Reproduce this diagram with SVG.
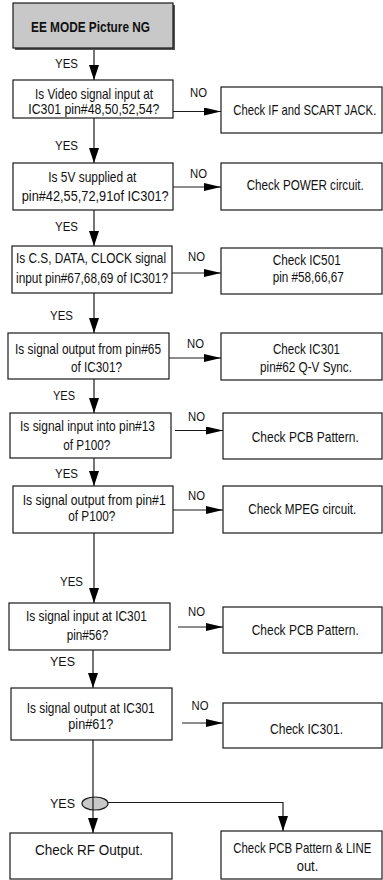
<svg xmlns="http://www.w3.org/2000/svg" width="383" height="880" viewBox="0 0 383 880">
<style>
.box{fill:#fff;stroke:#1a1a1a;stroke-width:1.2}
.t{font-family:"Liberation Sans",Arial,sans-serif;font-size:14px;fill:#111}
.b{font-family:"Liberation Sans",Arial,sans-serif;font-size:15px;font-weight:bold;fill:#111}
.l{font-family:"Liberation Sans",Arial,sans-serif;font-size:13px;fill:#111}
.c{fill:none;stroke:#1a1a1a;stroke-width:1.2}
</style>
<defs>
<marker id="av" markerUnits="userSpaceOnUse" markerWidth="16" markerHeight="11" refX="15" refY="5" orient="auto"><path d="M0,0 L15,5 L0,10 z" fill="#000"/></marker>
<marker id="ah" markerUnits="userSpaceOnUse" markerWidth="18" markerHeight="9" refX="17" refY="4" orient="auto"><path d="M0,0 L17,4 L0,8 z" fill="#000"/></marker>
</defs>
<g id="connectors">
<line class="c" x1="94" y1="48" x2="94" y2="80" marker-end="url(#av)"/>
<line class="c" x1="94" y1="118" x2="94" y2="163" marker-end="url(#av)"/>
<line class="c" x1="94" y1="210" x2="94" y2="246" marker-end="url(#av)"/>
<line class="c" x1="94" y1="293" x2="94" y2="333" marker-end="url(#av)"/>
<line class="c" x1="94" y1="379" x2="94" y2="413" marker-end="url(#av)"/>
<line class="c" x1="94" y1="458" x2="94" y2="486" marker-end="url(#av)"/>
<line class="c" x1="94" y1="533" x2="94" y2="603" marker-end="url(#av)"/>
<line class="c" x1="93" y1="650" x2="93" y2="688" marker-end="url(#av)"/>
<line class="c" x1="173" y1="111.5" x2="221" y2="111.5" marker-end="url(#ah)"/>
<line class="c" x1="173" y1="187" x2="221" y2="187" marker-end="url(#ah)"/>
<line class="c" x1="172" y1="273" x2="221" y2="273" marker-end="url(#ah)"/>
<line class="c" x1="169" y1="358" x2="221" y2="358" marker-end="url(#ah)"/>
<line class="c" x1="175" y1="430.5" x2="223" y2="430.5" marker-end="url(#ah)"/>
<line class="c" x1="173" y1="510" x2="223" y2="510" marker-end="url(#ah)"/>
<line class="c" x1="178" y1="627" x2="223" y2="627" marker-end="url(#ah)"/>
<line class="c" x1="182" y1="723" x2="223" y2="723" marker-end="url(#ah)"/>
<path class="c" d="M95,802.5 H283 V831" marker-end="url(#av)"/>
<ellipse cx="95" cy="803.5" rx="13" ry="6.5" fill="#c8c8c8" stroke="#1a1a1a" stroke-width="1.2"/>
<line class="c" x1="93" y1="740" x2="93" y2="833" stroke="#444" marker-end="url(#av)"/>
</g>
<g id="labels">
<text class="l" transform="translate(55,68) scale(0.88,1)" textLength="26.1" lengthAdjust="spacingAndGlyphs">YES</text>
<text class="l" transform="translate(55,150) scale(0.88,1)" textLength="26.1" lengthAdjust="spacingAndGlyphs">YES</text>
<text class="l" transform="translate(55,231) scale(0.88,1)" textLength="26.1" lengthAdjust="spacingAndGlyphs">YES</text>
<text class="l" transform="translate(50,320) scale(0.88,1)" textLength="26.1" lengthAdjust="spacingAndGlyphs">YES</text>
<text class="l" transform="translate(53,400) scale(0.88,1)" textLength="25" lengthAdjust="spacingAndGlyphs">YES</text>
<text class="l" transform="translate(55,478) scale(0.88,1)" textLength="26.1" lengthAdjust="spacingAndGlyphs">YES</text>
<text class="l" transform="translate(60,586) scale(0.88,1)" textLength="26.1" lengthAdjust="spacingAndGlyphs">YES</text>
<text class="l" transform="translate(50,666) scale(0.88,1)" textLength="28.4" lengthAdjust="spacingAndGlyphs">YES</text>
<text class="l" transform="translate(50,808) scale(0.88,1)" textLength="28.4" lengthAdjust="spacingAndGlyphs">YES</text>
<text class="l" transform="translate(190,97) scale(0.88,1)" textLength="19.3" lengthAdjust="spacingAndGlyphs">NO</text>
<text class="l" transform="translate(190,178) scale(0.88,1)" textLength="19.3" lengthAdjust="spacingAndGlyphs">NO</text>
<text class="l" transform="translate(188,261) scale(0.88,1)" textLength="19.3" lengthAdjust="spacingAndGlyphs">NO</text>
<text class="l" transform="translate(187,348) scale(0.88,1)" textLength="19.3" lengthAdjust="spacingAndGlyphs">NO</text>
<text class="l" transform="translate(188,421) scale(0.88,1)" textLength="19.3" lengthAdjust="spacingAndGlyphs">NO</text>
<text class="l" transform="translate(188,500) scale(0.88,1)" textLength="19.3" lengthAdjust="spacingAndGlyphs">NO</text>
<text class="l" transform="translate(188,616) scale(0.88,1)" textLength="19.3" lengthAdjust="spacingAndGlyphs">NO</text>
<text class="l" transform="translate(191.5,710) scale(0.88,1)" textLength="19.3" lengthAdjust="spacingAndGlyphs">NO</text>
</g>
<g id="start">
<rect x="15" y="5" width="160" height="45" fill="#555"/>
<rect x="13" y="3" width="160" height="45" fill="#c8c8c8" stroke="#1a1a1a" stroke-width="1.2"/>
<text class="b" transform="translate(31,32) scale(0.8,1)" textLength="148.8" lengthAdjust="spacingAndGlyphs">EE MODE Picture NG</text>
</g>
<g id="q1">
<rect class="box" x="13" y="80" width="160" height="38"/>
<text class="t" transform="translate(35,99) scale(0.84,1)" textLength="140.5" lengthAdjust="spacingAndGlyphs">Is Video signal input at</text>
<text class="t" transform="translate(28.3,114) scale(0.84,1)" textLength="156" lengthAdjust="spacingAndGlyphs">IC301 pin#48,50,52,54?</text>
</g>
<g id="r1">
<rect class="box" x="221" y="87" width="161" height="46"/>
<text class="t" transform="translate(233.3,115) scale(0.84,1)" textLength="170.2" lengthAdjust="spacingAndGlyphs">Check IF and SCART JACK.</text>
</g>
<g id="q2">
<rect class="box" x="13" y="163" width="160" height="47"/>
<text class="t" transform="translate(48.3,182) scale(0.84,1)" textLength="104.8" lengthAdjust="spacingAndGlyphs">Is 5V supplied at</text>
<text class="t" transform="translate(21.7,201) scale(0.84,1)" textLength="175" lengthAdjust="spacingAndGlyphs">pin#42,55,72,91of IC301?</text>
</g>
<g id="r2">
<rect class="box" x="221" y="163" width="161" height="47"/>
<text class="t" transform="translate(246.7,190) scale(0.84,1)" textLength="139.3" lengthAdjust="spacingAndGlyphs">Check POWER circuit.</text>
</g>
<g id="q3">
<rect class="box" x="12" y="246" width="160" height="47"/>
<text class="t" transform="translate(16,263) scale(0.84,1)" textLength="178.6" lengthAdjust="spacingAndGlyphs">Is C.S, DATA, CLOCK signal</text>
<text class="t" transform="translate(16,283) scale(0.84,1)" textLength="181" lengthAdjust="spacingAndGlyphs">input pin#67,68,69 of IC301?</text>
</g>
<g id="r3">
<rect class="box" x="221" y="248" width="161" height="46"/>
<text class="t" transform="translate(272.7,265) scale(0.84,1)" textLength="81" lengthAdjust="spacingAndGlyphs">Check IC501</text>
<text class="t" transform="translate(272.7,282) scale(0.84,1)" textLength="84.5" lengthAdjust="spacingAndGlyphs">pin #58,66,67</text>
</g>
<g id="q4">
<rect class="box" x="8" y="333" width="161" height="46"/>
<text class="t" transform="translate(15,354) scale(0.84,1)" textLength="173.8" lengthAdjust="spacingAndGlyphs">Is signal output from pin#65</text>
<text class="t" transform="translate(71,372) scale(0.84,1)" textLength="60.7" lengthAdjust="spacingAndGlyphs">of IC301?</text>
</g>
<g id="r4">
<rect class="box" x="221" y="333" width="161" height="47"/>
<text class="t" transform="translate(273,354) scale(0.84,1)" textLength="79.8" lengthAdjust="spacingAndGlyphs">Check IC301</text>
<text class="t" transform="translate(260,372) scale(0.84,1)" textLength="109.5" lengthAdjust="spacingAndGlyphs">pin#62 Q-V Sync.</text>
</g>
<g id="q5">
<rect class="box" x="10" y="413" width="161" height="45"/>
<text class="t" transform="translate(20,431) scale(0.84,1)" textLength="160.7" lengthAdjust="spacingAndGlyphs">Is signal input into pin#13</text>
<text class="t" transform="translate(63.3,450) scale(0.84,1)" textLength="56" lengthAdjust="spacingAndGlyphs">of P100?</text>
</g>
<g id="r5">
<rect class="box" x="223" y="413" width="159" height="46"/>
<text class="t" transform="translate(251.7,442) scale(0.84,1)" textLength="127.4" lengthAdjust="spacingAndGlyphs">Check PCB Pattern.</text>
</g>
<g id="q6">
<rect class="box" x="13" y="486" width="160" height="47"/>
<text class="t" transform="translate(22.7,505) scale(0.84,1)" textLength="170.2" lengthAdjust="spacingAndGlyphs">Is signal output from pin#1</text>
<text class="t" transform="translate(68.3,521) scale(0.84,1)" textLength="56" lengthAdjust="spacingAndGlyphs">of P100?</text>
</g>
<g id="r6">
<rect class="box" x="223" y="486" width="159" height="47"/>
<text class="t" transform="translate(248.3,514) scale(0.84,1)" textLength="128.6" lengthAdjust="spacingAndGlyphs">Check MPEG circuit.</text>
</g>
<g id="q7">
<rect class="box" x="9" y="603" width="161" height="47"/>
<text class="t" transform="translate(26,621) scale(0.84,1)" textLength="144" lengthAdjust="spacingAndGlyphs">Is signal input at IC301</text>
<text class="t" transform="translate(66.7,640) scale(0.84,1)" textLength="49.5" lengthAdjust="spacingAndGlyphs">pin#56?</text>
</g>
<g id="r7">
<rect class="box" x="223" y="607" width="159" height="46"/>
<text class="t" transform="translate(251.7,635) scale(0.84,1)" textLength="127.4" lengthAdjust="spacingAndGlyphs">Check PCB Pattern.</text>
</g>
<g id="q8">
<rect class="box" x="11" y="688" width="161" height="52"/>
<text class="t" transform="translate(26.7,713) scale(0.84,1)" textLength="152.4" lengthAdjust="spacingAndGlyphs">Is signal output at IC301</text>
<text class="t" transform="translate(68.3,729) scale(0.84,1)" textLength="53.6" lengthAdjust="spacingAndGlyphs">pin#61?</text>
</g>
<g id="r8">
<rect class="box" x="223" y="703" width="159" height="45"/>
<text class="t" transform="translate(270,734) scale(0.84,1)" textLength="86.9" lengthAdjust="spacingAndGlyphs">Check IC301.</text>
</g>
<g id="end1">
<rect class="box" x="10" y="833" width="162" height="46"/>
<text class="t" transform="translate(35,855) scale(0.88,1)" style="font-size:15px" textLength="122.7" lengthAdjust="spacingAndGlyphs">Check RF Output.</text>
</g>
<g id="end2">
<rect class="box" x="221" y="831" width="161" height="48"/>
<text class="t" transform="translate(233.3,853) scale(0.84,1)" textLength="164.3" lengthAdjust="spacingAndGlyphs">Check PCB Pattern &amp; LINE</text>
<text class="t" transform="translate(296.7,871) scale(0.84,1)" textLength="25.7" lengthAdjust="spacingAndGlyphs">out.</text>
</g>
</svg>
